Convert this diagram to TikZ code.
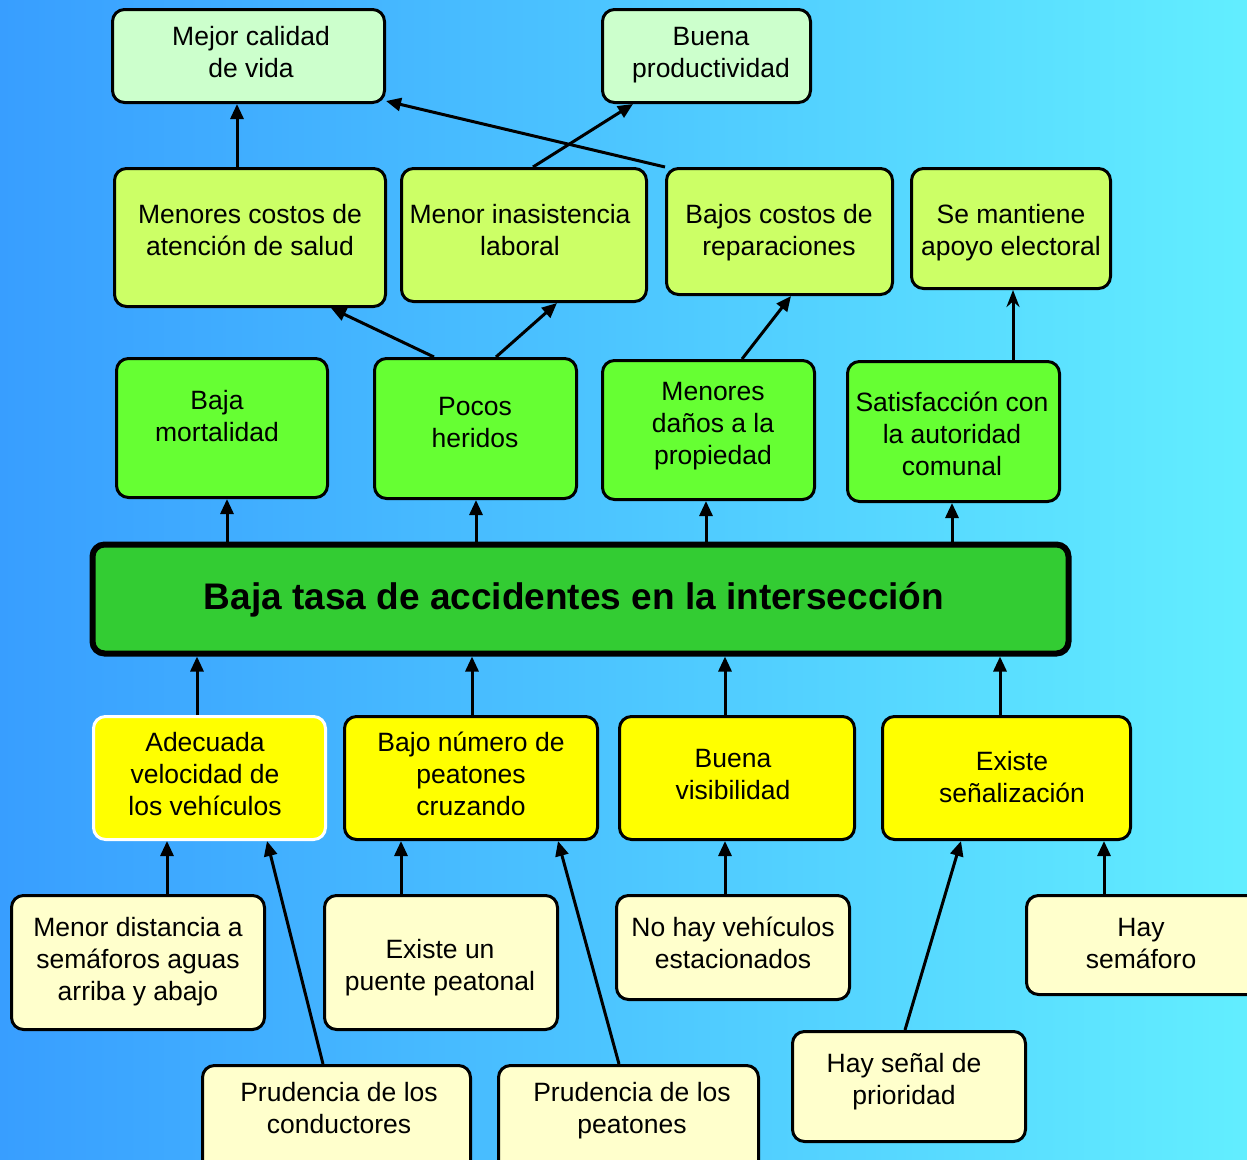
\documentclass[tikz,border=0pt]{standalone}
\usepackage{fontspec}
\setmainfont{Liberation Sans}
\usetikzlibrary{arrows.meta}
\definecolor{bgl}{RGB}{56,158,255}
\definecolor{bgr}{RGB}{98,238,255}
\definecolor{toplvl}{HTML}{CCFFCC}
\definecolor{midlvl}{HTML}{CCFF66}
\definecolor{efflvl}{HTML}{66FF33}
\definecolor{corelvl}{HTML}{33CC33}
\definecolor{meanlvl}{HTML}{FFFF00}
\definecolor{baselvl}{HTML}{FFFFCC}
\tikzset{
  box/.style={draw=black, line width=3pt, rounded corners=12pt, inner sep=0pt},
  txt/.style={align=center, inner sep=0pt, font=\fontsize{26.5}{32}\selectfont},
  arr/.style={line width=3pt, -{Triangle[length=15pt,width=13pt]}},
}
\begin{document}
\begin{tikzpicture}[x=1pt,y=-1pt]
\useasboundingbox (0,0) rectangle (1247,1159);
\clip (0,0) rectangle (1247,1159);
\shade[left color=bgl, right color=bgr] (0,0) rectangle (1247,1159);

% ends
\node[box, fill=toplvl, minimum width=272, minimum height=93] (m1) at (248.5,56) {};
\node[txt] at (251,52) {Mejor calidad\\de vida};
\node[box, fill=toplvl, minimum width=208, minimum height=93] (m2) at (706.5,56) {};
\node[txt] at (711,55) {Buena\\productividad};

% indirect effects
\node[box, fill=midlvl, minimum width=271, minimum height=138] (c1) at (250,237.5) {};
\node[txt] at (250,230) {Menores costos de\\atención de salud};
\node[box, fill=midlvl, minimum width=245, minimum height=133] (c2) at (524,235) {};
\node[txt] at (520,230) {Menor inasistencia\\laboral};
\node[box, fill=midlvl, minimum width=226, minimum height=126] (c3) at (779.5,231.5) {};
\node[txt] at (779,233) {Bajos costos de\\reparaciones};
\node[box, fill=midlvl, minimum width=199, minimum height=120] (c4) at (1011,228.5) {};
\node[txt] at (1011,233) {Se mantiene\\apoyo electoral};

% direct effects
\node[box, fill=efflvl, minimum width=211, minimum height=139] (e1) at (222,428) {};
\node[txt] at (217,416) {Baja\\mortalidad};
\node[box, fill=efflvl, minimum width=202, minimum height=140] (e2) at (475.5,428.5) {};
\node[txt] at (475,423) {Pocos\\heridos};
\node[box, fill=efflvl, minimum width=212, minimum height=139] (e3) at (708.5,430) {};
\node[txt] at (713,426) {Menores\\daños a la\\propiedad};
\node[box, fill=efflvl, minimum width=212, minimum height=140] (e4) at (953.5,431.5) {};
\node[txt] at (952,434) {Satisfacción con\\la autoridad\\comunal};

% central objective
\node[box, fill=corelvl, line width=6pt, minimum width=976, minimum height=109] (core) at (580.5,599) {};
\node[font=\bfseries\fontsize{37}{42}\selectfont, inner sep=0pt] at (574,600) {Baja tasa de accidentes en la intersección};

% means
\node[box, draw=white, fill=meanlvl, minimum width=232, minimum height=123] (y1) at (209.5,778) {};
\node[txt] at (205,774) {Adecuada\\velocidad de\\los vehículos};
\node[box, fill=meanlvl, minimum width=253, minimum height=123] (y2) at (471,778) {};
\node[txt] at (471,774) {Bajo número de\\peatones\\cruzando};
\node[box, fill=meanlvl, minimum width=235, minimum height=123] (y3) at (737,778) {};
\node[txt] at (733,775) {Buena\\visibilidad};
\node[box, fill=meanlvl, minimum width=248, minimum height=123] (y4) at (1006.5,778) {};
\node[txt] at (1012,777) {Existe\\señalización};

% basic means
\node[box, fill=baselvl, minimum width=253, minimum height=134] (b1) at (138,962.5) {};
\node[txt] at (138,962) {Menor distancia a\\semáforos aguas\\arriba y abajo};
\node[box, fill=baselvl, minimum width=233, minimum height=134] (b2) at (441,962.5) {};
\node[txt] at (440,968) {Existe un\\puente peatonal};
\node[box, fill=baselvl, minimum width=233, minimum height=104] (b3) at (733,947.5) {};
\node[txt] at (733,943) {No hay vehículos\\estacionados};
\node[box, fill=baselvl, minimum width=235, minimum height=99] (b4) at (1144,945) {};
\node[txt] at (1141,943) {Hay\\semáforo};
\node[box, fill=baselvl, minimum width=268, minimum height=109] (b5) at (336.5,1120) {};
\node[txt] at (339,1108) {Prudencia de los\\conductores};
\node[box, fill=baselvl, minimum width=260, minimum height=109] (b6) at (628.5,1120) {};
\node[txt] at (632,1111) {Prudencia de los\\peatones};
\node[box, fill=baselvl, minimum width=233, minimum height=110] (b7) at (909,1086.5) {};
\node[txt] at (904,1082) {Hay señal de\\prioridad};

% effects tree
\draw[arr] (c1.north -| 237,0) -- (m1.south -| 237,0);
\draw[arr] (c3.north -| 665,0) -- (m1.east |- 0,101);
\draw[arr] (c2.north -| 533,0) -- (m2.south -| 633,0);
\draw[arr] (e2.north -| 434,0) -- (c1.south -| 331,0);
\draw[arr] (e2.north -| 496,0) -- (c2.south -| 557,0);
\draw[arr] (e3.north -| 742,0) -- (c3.south -| 791,0);
\draw[line width=3pt, -{Stealth[length=17pt,width=13pt]}] (e4.north -| 1013,0) -- (c4.south -| 1013,0);

\draw[arr] (core.north -| 227,0) -- (e1.south -| 227,0);
\draw[arr] (core.north -| 476,0) -- (e2.south -| 476,0);
\draw[arr] (core.north -| 706,0) -- (e3.south -| 706,0);
\draw[arr] (core.north -| 952,0) -- (e4.south -| 952,0);

% means tree
\draw[arr] (y1.north -| 197,0) -- (core.south -| 197,0);
\draw[arr] (y2.north -| 472,0) -- (core.south -| 472,0);
\draw[arr] (y3.north -| 725,0) -- (core.south -| 725,0);
\draw[arr] (y4.north -| 1000,0) -- (core.south -| 1000,0);

\draw[arr] (b1.north -| 167,0) -- (y1.south -| 167,0);
\draw[arr] (b5.north -| 323,0) -- (y1.south -| 267,0);
\draw[arr] (b2.north -| 401,0) -- (y2.south -| 401,0);
\draw[arr] (b6.north -| 619,0) -- (y2.south -| 558,0);
\draw[arr] (b3.north -| 725,0) -- (y3.south -| 725,0);
\draw[arr] (b7.north -| 905,0) -- (y4.south -| 961,0);
\draw[arr] (b4.north -| 1104,0) -- (y4.south -| 1104,0);
\end{tikzpicture}
\end{document}
